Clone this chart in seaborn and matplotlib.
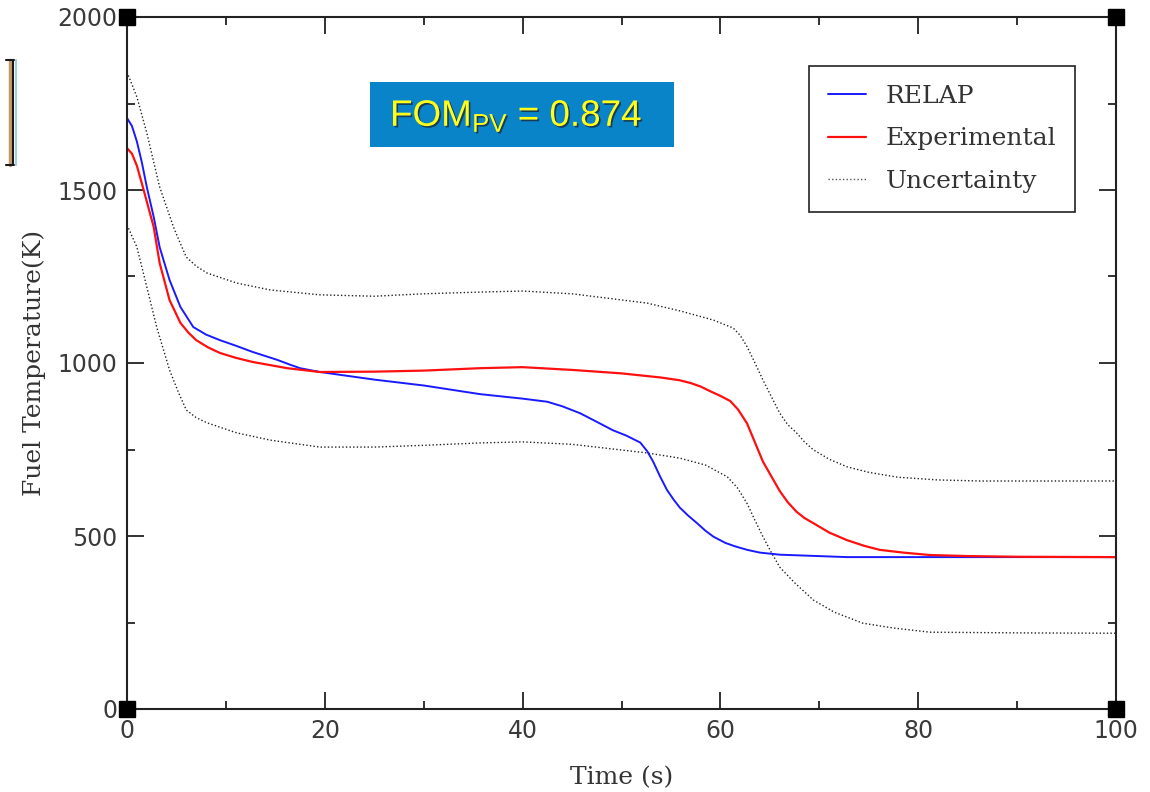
import numpy as np
import pandas as pd
import seaborn as sns
import matplotlib
matplotlib.use("Agg")
import matplotlib.pyplot as plt
from matplotlib.lines import Line2D
from matplotlib.patches import Rectangle
import matplotlib.patheffects as pe

# ---------------- data ----------------
relap_t = [0, 0.5, 1, 1.5, 2, 2.7, 3.3, 4.3, 5.4, 6.7, 8, 9.4, 11, 12.7, 14, 15.2,
           16.5, 17.5, 19.5, 25, 30, 35.7, 40, 42.5, 44, 45.8, 47.5, 49.1, 50.5,
           51.9, 52.6, 53.2, 53.9, 54.6, 55.3, 55.9, 56.7, 57.6, 58.5, 59.3, 60.5,
           61.5, 62.7, 64, 66, 72.8, 85, 100]
relap_v = [1708, 1685, 1640, 1580, 1509, 1422, 1335, 1240, 1162, 1104, 1082, 1066,
           1050, 1032, 1020, 1009, 995, 985, 974, 952, 935, 910, 897, 888, 875,
           855, 830, 806, 790, 770, 745, 715, 672, 633, 604, 582, 560, 538, 515,
           498, 480, 470, 460, 452, 446, 439, 439, 439]

exp_t = [0, 0.5, 1, 1.6, 2.7, 3.3, 4.3, 5.4, 6.2, 7, 8.2, 9.4, 11, 12.7, 16.2,
         19.5, 25, 30, 35.7, 40, 45, 50, 54, 55.9, 57, 58, 59, 60, 61, 61.8, 62.7,
         63.5, 64.3, 65.2, 66, 66.8, 67.7, 68.5, 69.4, 71, 72.8, 74.5, 76.1, 78.5,
         81.2, 85, 90, 100]
exp_v = [1621, 1605, 1570, 1509, 1393, 1289, 1182, 1116, 1088, 1066, 1045, 1029,
         1015, 1003, 985, 974, 975, 978, 985, 988, 980, 970, 958, 950, 942, 932,
         918, 905, 890, 865, 825, 770, 715, 670, 630, 598, 570, 552, 537, 510,
         488, 472, 460, 452, 445, 442, 440, 439]

unc_hi_t = [0, 1, 2, 3.3, 4.7, 5.4, 6, 7, 8.1, 11.1, 14.5, 19.5, 25, 30, 35.7,
            40, 45, 52.6, 56, 59.3, 61.3, 62, 62.7, 63.5, 64.3, 65.2, 66, 66.8,
            67.7, 68.5, 69.4, 71, 72.8, 75, 77.9, 82, 86.2, 100]
unc_hi_v = [1841, 1769, 1665, 1509, 1393, 1345, 1306, 1280, 1260, 1231, 1211,
            1197, 1193, 1200, 1205, 1208, 1200, 1173, 1150, 1124, 1101, 1080,
            1047, 1000, 951, 900, 855, 822, 798, 772, 749, 722, 700, 684, 670,
            662, 659, 659]

unc_lo_t = [0, 1, 2, 3, 4.3, 5.2, 6, 7, 8.1, 11.1, 14.5, 19.5, 25, 30, 35.7, 40,
            45, 52.6, 55.9, 58.5, 60.7, 61.7, 62.7, 63.5, 64.3, 65.2, 66, 67.5,
            69.4, 71.5, 74.4, 77.5, 81.2, 90, 100]
unc_lo_v = [1399, 1335, 1220, 1104, 980, 915, 864, 842, 827, 798, 777, 757, 757,
            762, 769, 772, 765, 740, 725, 705, 671, 640, 594, 545, 498, 450, 410,
            365, 315, 280, 248, 234, 222, 220, 219]

x_ticks = [0, 20, 40, 60, 80, 100]
y_ticks = [0, 500, 1000, 1500, 2000]
x_label = "Time (s)"
y_label = "Fuel Temperature(K)"
fom_text = r"FOM$_{\mathregular{PV}}$ = 0.874"
legend_labels = ["RELAP", "Experimental", "Uncertainty"]

# ---------------- figure ----------------
sns.set_style("ticks")
plt.rcParams["font.family"] = ["DejaVu Sans"]

fig = plt.figure(figsize=(11.5, 7.92), dpi=100)
ax = fig.add_axes([127 / 1150, 1 - 709 / 792, (1116 - 127) / 1150, (709 - 17) / 792])

unc_style = dict(color="#222222", lw=1.0, linestyle=(0, (1, 1.6)))
sns.lineplot(x=unc_hi_t, y=unc_hi_v, ax=ax, sort=False, **unc_style)
sns.lineplot(x=unc_lo_t, y=unc_lo_v, ax=ax, sort=False, **unc_style)
sns.lineplot(x=relap_t, y=relap_v, ax=ax, sort=False, color="#1a1aff", lw=1.4)
sns.lineplot(x=exp_t, y=exp_v, ax=ax, sort=False, color="#ff1010", lw=1.6)

ax.set_xlim(x_ticks[0], x_ticks[-1])
ax.set_ylim(y_ticks[0], y_ticks[-1])
ax.set_xticks(x_ticks)
ax.set_yticks(y_ticks)
ax.set_xticks(np.arange(x_ticks[0], x_ticks[-1] + 1, 10), minor=True)
ax.set_yticks(np.arange(y_ticks[0], y_ticks[-1] + 1, 250), minor=True)

for sp in ax.spines.values():
    sp.set_color("#222222")
    sp.set_linewidth(1.5)

ax.tick_params(which="both", direction="in", top=True, right=True,
               color="#222222", width=1.3)
ax.tick_params(which="major", length=12, labelsize=17, labelcolor="#3a3a3a", pad=7)
ax.tick_params(which="minor", length=6)

ax.set_xlabel(x_label, fontsize=18, family="DejaVu Serif", color="#333333", labelpad=17)
ax.set_ylabel(y_label, fontsize=18, family="DejaVu Serif", color="#333333", labelpad=8)

# corner squares
ax.plot([x_ticks[0], x_ticks[-1], x_ticks[0], x_ticks[-1]],
        [y_ticks[0], y_ticks[0], y_ticks[-1], y_ticks[-1]],
        linestyle="none", marker="s", ms=11.5, color="black", clip_on=False, zorder=10)

# legend
handles = [Line2D([], [], color="#1a1aff", lw=1.4),
           Line2D([], [], color="#ff1010", lw=1.6),
           Line2D([], [], color="#555555", lw=1.0, linestyle=(0, (1, 1.6)))]
leg = ax.legend(handles, legend_labels, loc="upper right",
                bbox_to_anchor=((1075 - 127) / 989, (709 - 66) / 692),
                prop={"family": "DejaVu Serif", "size": 18},
                frameon=True, fancybox=False, framealpha=1, edgecolor="#222222",
                handlelength=1.5, handletextpad=0.8, labelspacing=0.78,
                borderpad=0.75, borderaxespad=0)
leg.get_frame().set_linewidth(1.2)
for t in leg.get_texts():
    t.set_color("#333333")

# FOM box
fig.add_artist(Rectangle((370 / 1150, 1 - 147 / 792), 304 / 1150, 65 / 792,
                         transform=fig.transFigure, facecolor="#0a84c9",
                         edgecolor="none", zorder=5))
fig.text(390 / 1150, 1 - 116 / 792, fom_text, fontsize=26.5, color="#ffff1a",
         family="Liberation Sans", va="center", ha="left", zorder=6,
         path_effects=[pe.withSimplePatchShadow(offset=(1.2, -1.2),
                                                shadow_rgbFace="#1a2a40", alpha=0.8)])

# cropped bracket artifact at the left edge
for xpx, col, lw in [(10, "#c49a6c", 2.5), (13, "#1a1a1a", 1.5), (15.5, "#a8cce0", 1.5)]:
    fig.add_artist(Line2D([xpx / 1150, xpx / 1150], [1 - 60 / 792, 1 - 165 / 792],
                          transform=fig.transFigure, color=col, lw=lw))
for ypx in (60, 165):
    fig.add_artist(Line2D([6 / 1150, 14 / 1150], [1 - ypx / 792, 1 - ypx / 792],
                          transform=fig.transFigure, color="#1a1a1a", lw=1.5))

fig.savefig("out.png", dpi=100)
